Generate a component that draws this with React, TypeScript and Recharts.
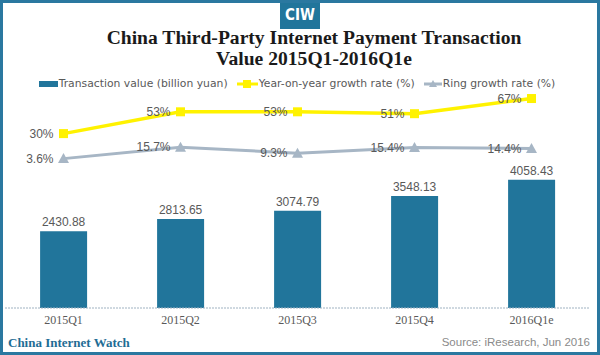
import React from "react";
import {
  ComposedChart,
  Bar,
  Line,
  XAxis,
  YAxis,
  LabelList
} from "recharts";

const quarters = ["2015Q1", "2015Q2", "2015Q3", "2015Q4", "2016Q1e"];
const transactionValue = [2430.88, 2813.65, 3074.79, 3548.13, 4058.43];
const yoyGrowth = [30, 53, 53, 51, 67];
const ringGrowth = [3.6, 15.7, 9.3, 15.4, 14.4];

const seriesNames = [
  "Transaction value (billion yuan)",
  "Year-on-year growth rate (%)",
  "Ring growth rate (%)"
];

const BLUE = "#21759b";
const YELLOW = "#fff200";
const GREY = "#a7b6c5";
const TEXT = "#595959";

const data = quarters.map((q, i) => ({
  quarter: q,
  value: transactionValue[i],
  yoy: yoyGrowth[i],
  ring: ringGrowth[i]
}));

const SquareDot = (props: any) => {
  const { cx, cy } = props;
  if (cx == null || cy == null) return null;
  return <rect x={cx - 4.5} y={cy - 4.5} width={9} height={9} fill={YELLOW} />;
};

const TriangleDot = (props: any) => {
  const { cx, cy } = props;
  if (cx == null || cy == null) return null;
  return (
    <polygon
      points={`${cx},${cy - 5.5} ${cx + 5.5},${cy + 4.5} ${cx - 5.5},${cy + 4.5}`}
      fill={GREY}
    />
  );
};

const pct = (v: any) => `${v}%`;

// legend drawn as plain html so it doesn't push the plot area down
function ChartLegend() {
  const icon = (i: number) => {
    if (i === 0)
      return (
        <svg width={19} height={10}>
          <rect x={0} y={2} width={19} height={6} fill={BLUE} />
        </svg>
      );
    if (i === 1)
      return (
        <svg width={21} height={10}>
          <line x1={0} y1={5} x2={21} y2={5} stroke={YELLOW} strokeWidth={3} />
          <rect x={6} y={1} width={8} height={8} fill={YELLOW} />
        </svg>
      );
    return (
      <svg width={18} height={10}>
        <line x1={0} y1={5} x2={18} y2={5} stroke={GREY} strokeWidth={3} />
        <polygon points="9,1 13,8 5,8" fill={GREY} />
      </svg>
    );
  };
  return (
    <div
      style={{
        position: "absolute",
        left: 0,
        top: 76,
        width: 594,
        display: "flex",
        justifyContent: "center",
        alignItems: "center",
        gap: 9,
        fontFamily: "'DejaVu Sans', sans-serif",
        fontSize: 10.8,
        lineHeight: "15px",
        color: TEXT
      }}
    >
      {seriesNames.map((name, i) => (
        <div key={name} style={{ display: "flex", alignItems: "center" }}>
          {icon(i)}
          <span style={{ marginLeft: 1 }}>{name}</span>
        </div>
      ))}
    </div>
  );
}

function App() {
  return (
    <div
      style={{
        position: "absolute",
        left: 0,
        top: 0,
        width: 600,
        height: 355,
        background: "#fff",
        overflow: "hidden"
      }}
    >
      <ComposedChart
        width={600}
        height={355}
        data={data}
        margin={{ top: 90, right: 10, bottom: 17, left: 5 }}
        barCategoryGap="30%"
      >
        <XAxis
          dataKey="quarter"
          height={30}
          tickLine={false}
          axisLine={{ stroke: "#9fb2c1", strokeDasharray: "2 1" }}
          tick={{
            fill: TEXT,
            fontSize: 12,
            fontFamily: "'Liberation Serif', Georgia, serif"
          }}
          tickMargin={1}
        />
        <YAxis yAxisId="bars" hide domain={[0, 6900]} allowDataOverflow />
        <YAxis yAxisId="rates" hide domain={[-154, 76]} allowDataOverflow />
        <Bar
          yAxisId="bars"
          dataKey="value"
          name={seriesNames[0]}
          fill={BLUE}
          isAnimationActive={false}
        >
          <LabelList
            dataKey="value"
            position="top"
            offset={5}
            fill={TEXT}
            fontSize={12}
            fontFamily="'Liberation Sans', Arial, sans-serif"
          />
        </Bar>
        <Line
          yAxisId="rates"
          dataKey="ring"
          name={seriesNames[2]}
          stroke={GREY}
          strokeWidth={3}
          dot={<TriangleDot />}
          activeDot={false}
          isAnimationActive={false}
        >
          <LabelList
            dataKey="ring"
            position="left"
            offset={10}
            formatter={pct}
            fill={TEXT}
            fontSize={12}
            fontFamily="'Liberation Sans', Arial, sans-serif"
          />
        </Line>
        <Line
          yAxisId="rates"
          dataKey="yoy"
          name={seriesNames[1]}
          stroke={YELLOW}
          strokeWidth={3.5}
          dot={<SquareDot />}
          activeDot={false}
          isAnimationActive={false}
        >
          <LabelList
            dataKey="yoy"
            position="left"
            offset={10}
            formatter={pct}
            fill={TEXT}
            fontSize={12}
            fontFamily="'Liberation Sans', Arial, sans-serif"
          />
        </Line>
      </ComposedChart>

      <ChartLegend />

      <div
        style={{
          position: "absolute",
          left: 14,
          top: 27,
          width: 600,
          textAlign: "center",
          fontFamily: "'Liberation Serif', Georgia, serif",
          fontWeight: "bold",
          fontSize: 19.6,
          lineHeight: "21px",
          color: "#1a1a1a"
        }}
      >
        China Third-Party Internet Payment Transaction
        <br />
        Value 2015Q1-2016Q1e
      </div>

      <div
        style={{
          position: "absolute",
          left: 280,
          top: 0,
          width: 40,
          height: 29,
          background: BLUE,
          color: "#fff",
          fontFamily: "'DejaVu Sans Condensed', 'DejaVu Sans', sans-serif",
          fontWeight: "bold",
          fontSize: 15,
          lineHeight: "31px",
          textAlign: "center"
        }}
      >
        CIW
      </div>

      <div
        style={{
          position: "absolute",
          left: 8,
          top: 335,
          fontFamily: "'Liberation Serif', Georgia, serif",
          fontWeight: "bold",
          fontSize: 13,
          color: "#1f6d95"
        }}
      >
        China Internet Watch
      </div>
      <div
        style={{
          position: "absolute",
          right: 10,
          top: 336,
          fontFamily: "'Liberation Sans', Arial, sans-serif",
          fontSize: 11.5,
          color: "#8a8a8a"
        }}
      >
        Source: iResearch, Jun 2016
      </div>

      <div
        style={{
          position: "absolute",
          left: 0,
          top: 0,
          width: 600,
          height: 355,
          boxSizing: "border-box",
          border: "3px solid #2a78a0",
          pointerEvents: "none"
        }}
      />
    </div>
  );
}

export default App;
